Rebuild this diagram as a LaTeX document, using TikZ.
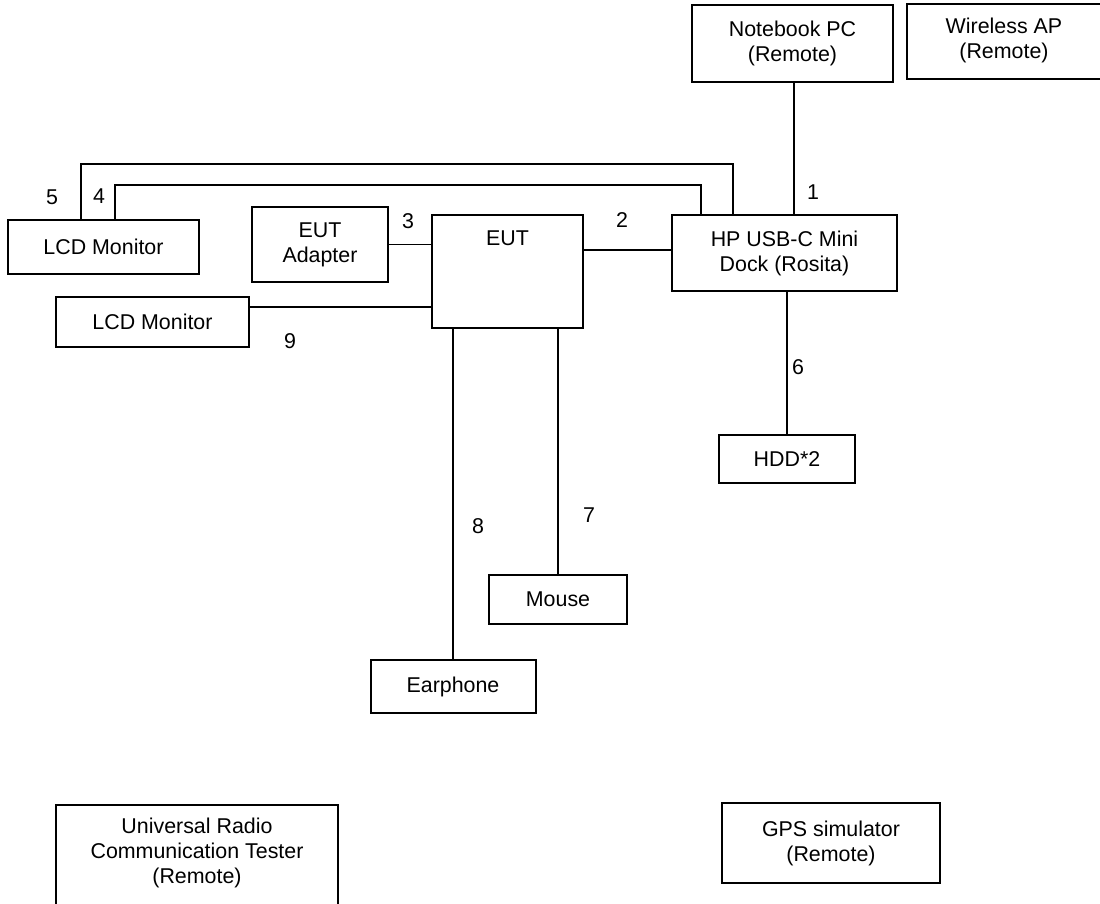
\documentclass[tikz,border=0pt]{standalone}
\usepackage{fontspec}
\setmainfont{Liberation Sans}
\begin{document}
\begin{tikzpicture}[x=0.5pt,y=-0.5pt,
  box/.style={draw=black,line width=1pt,fill=white,inner sep=0pt,align=center,
    font=\fontsize{10.7}{12.5}\selectfont},
  txt/.style={inner sep=0pt,align=center,font=\fontsize{10.7}{12.5}\selectfont},
  num/.style={inner sep=0pt,font=\fontsize{10.7}{12.5}\selectfont},
  wire/.style={draw=black,line width=0.9pt}]
\useasboundingbox (0,0) rectangle (1100,904);
\fill[white] (0,0) rectangle (1100,904);
% boxes
\node[box,minimum width=100.5pt,minimum height=38.5pt] (nb) at (792.5,43.5) {Notebook PC\\(Remote)};
\node[box,minimum width=99pt,minimum height=37.5pt] (ap) at (1005.5,41.5) {};
\node[txt] (apt) at (1004,40) {Wireless AP\\(Remote)};
\node[box,minimum width=112.5pt,minimum height=38pt] (dock) at (784.5,253) {HP USB-C Mini\\Dock (Rosita)};
\node[box,minimum width=95.5pt,minimum height=27pt] (lcd1) at (103.5,247) {LCD Monitor};
\node[box,minimum width=68pt,minimum height=37.5pt] (adapt) at (320,244.5) {EUT\\Adapter};
\node[box,minimum width=75.5pt,minimum height=56.5pt,
  label={[anchor=north,inner sep=0pt,yshift=-8pt,font=\fontsize{10.7}{12.5}\selectfont]north:EUT}] (eut) at (507.5,271.5) {};
\node[box,minimum width=96.5pt,minimum height=25pt] (lcd2) at (152.5,322) {LCD Monitor};
\node[box,minimum width=68pt,minimum height=24pt] (hdd) at (787,459) {HDD*2};
\node[box,minimum width=69pt,minimum height=24.5pt] (mouse) at (558,599.5) {Mouse};
\node[box,minimum width=82.5pt,minimum height=26.5pt] (ear) at (453,686.5) {Earphone};
\node[box,minimum width=141pt,minimum height=60pt,anchor=north] (urct) at (197,804) {};
\node[txt] (urctt) at (197,853) {Universal Radio\\Communication Tester\\(Remote)};
\node[box,minimum width=109pt,minimum height=40pt] (gps) at (831,843) {GPS simulator\\(Remote)};
% connectors
\draw[wire] ([xshift=0.75pt]nb.south) coordinate (a1) -- (a1 |- dock.north);
\draw[wire] ([xshift=37pt]lcd1.north west) coordinate (a5) -- (a5 |- 0,164) -| ([xshift=31pt]dock.north west);
\draw[wire] ([xshift=54pt]lcd1.north west) coordinate (a4) -- (a4 |- 0,185) -| ([xshift=15pt]dock.north west);
\draw[wire] ([yshift=10.75pt]eut.east) coordinate (a2) -- (a2 -| dock.west);
\draw[wire] (adapt.east) -- (adapt.east -| eut.west);
\draw[wire] ([yshift=7.5pt]lcd2.east) coordinate (a9) -- (a9 -| eut.west);
\draw[wire] (hdd.north) -- (hdd.north |- dock.south);
\draw[wire] (mouse.north) -- (mouse.north |- eut.south);
\draw[wire] (ear.north) -- (ear.north |- eut.south);
% labels
\node[num] (n1) at (813,192) {1};
\node[num] (n2) at (622,220) {2};
\node[num] (n3) at (408,221) {3};
\node[num] (n4) at (99,196) {4};
\node[num] (n5) at (52,197) {5};
\node[num] (n6) at (798,367) {6};
\node[num] (n7) at (589,515) {7};
\node[num] (n8) at (478,526) {8};
\node[num] (n9) at (290,341) {9};
\end{tikzpicture}
\end{document}
